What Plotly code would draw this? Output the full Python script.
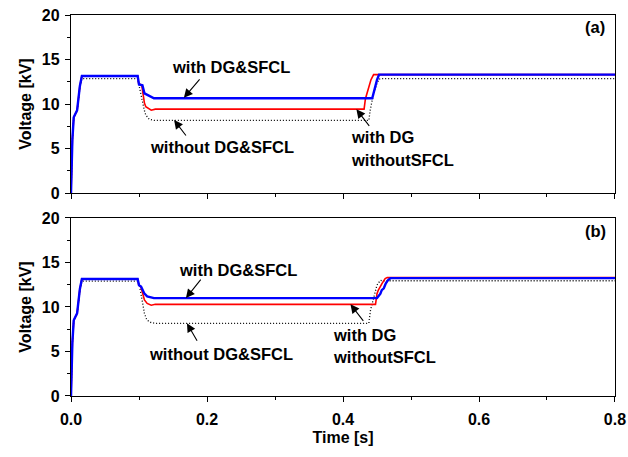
import plotly.graph_objects as go

# ---- panel (a) ----
t_a_blue = [0, 0.002, 0.004, 0.007, 0.009, 0.013, 0.016, 0.098, 0.100, 0.105, 0.108, 0.113, 0.122,
            0.443, 0.446, 0.448, 0.450, 0.453, 0.8]
v_a_blue = [0, 6.0, 8.5, 9.1, 9.3, 12.0, 13.15, 13.15, 12.2, 12.1, 11.2, 11.0, 10.65,
            10.65, 11.6, 12.1, 12.7, 13.3, 13.3]

t_a_red = [0, 0.002, 0.004, 0.007, 0.009, 0.013, 0.016, 0.098, 0.0995, 0.104, 0.108, 0.110, 0.118, 0.124,
           0.431, 0.433, 0.438, 0.441, 0.445, 0.8]
v_a_red = [0, 6.0, 8.5, 9.1, 9.3, 12.0, 13.15, 13.15, 12.3, 12.1, 10.1, 9.7, 9.3, 9.42,
           9.42, 10.6, 12.1, 12.7, 13.3, 13.3]

t_a_blk = [0, 0.002, 0.004, 0.007, 0.009, 0.013, 0.016, 0.098, 0.1005, 0.102, 0.1054, 0.1078, 0.110, 0.115, 0.122,
           0.438, 0.440, 0.443, 0.445, 0.450, 0.453, 0.456, 0.8]
v_a_blk = [0, 6.0, 8.5, 9.0, 9.2, 11.8, 12.85, 12.85, 11.9, 11.2, 10.1, 9.3, 8.76, 8.28, 8.15,
           8.15, 9.3, 10.45, 11.2, 12.3, 12.8, 12.85, 12.85]

# ---- panel (b) ----
t_b_blue = [0, 0.002, 0.004, 0.007, 0.009, 0.013, 0.016, 0.098, 0.100, 0.103, 0.108, 0.112, 0.122,
            0.450, 0.455, 0.457, 0.460, 0.463, 0.466, 0.470, 0.8]
v_b_blue = [0, 6.0, 8.5, 9.1, 9.3, 12.0, 13.15, 13.15, 12.45, 12.3, 11.5, 11.2, 11.0,
            11.0, 11.5, 11.9, 12.1, 12.66, 13.0, 13.25, 13.25]

t_b_red = [0, 0.002, 0.004, 0.007, 0.009, 0.013, 0.016, 0.098, 0.0995, 0.103, 0.108, 0.112, 0.118, 0.124,
           0.4478, 0.450, 0.452, 0.4575, 0.462, 0.465, 0.8]
v_b_red = [0, 6.0, 8.5, 9.1, 9.3, 12.0, 13.15, 13.15, 12.5, 12.2, 10.8, 10.4, 10.2, 10.3,
           10.3, 11.5, 11.9, 12.66, 13.2, 13.3, 13.3]

t_b_blk = [0, 0.002, 0.004, 0.007, 0.009, 0.013, 0.016, 0.098, 0.1005, 0.1054, 0.108, 0.1115, 0.118, 0.125,
           0.438, 0.4405, 0.4455, 0.450, 0.455, 0.458, 0.8]
v_b_blk = [0, 6.0, 8.5, 9.0, 9.2, 11.8, 12.9, 12.9, 12.5, 10.4, 9.3, 8.54, 8.24, 8.17,
           8.17, 9.66, 11.15, 12.47, 13.0, 12.95, 12.95]

x_ticks = [0.0, 0.2, 0.4, 0.6, 0.8]
x_tick_text = ["0.0", "0.2", "0.4", "0.6", "0.8"]
y_ticks = [0, 5, 10, 15, 20]

FONT = "Liberation Sans"

fig = go.Figure()

def add_panel(xa, ya, t_blk, v_blk, t_red, v_red, t_blue, v_blue):
    fig.add_trace(go.Scatter(x=t_blk, y=v_blk, mode="lines", xaxis=xa, yaxis=ya,
                             line=dict(color="black", width=1.3, dash="1px,2px"), showlegend=False))
    fig.add_trace(go.Scatter(x=t_red, y=v_red, mode="lines", xaxis=xa, yaxis=ya,
                             line=dict(color="#ff0000", width=1.6), showlegend=False))
    fig.add_trace(go.Scatter(x=t_blue, y=v_blue, mode="lines", xaxis=xa, yaxis=ya,
                             line=dict(color="#0000ff", width=2.4), showlegend=False))

add_panel("x", "y", t_a_blk, v_a_blk, t_a_red, v_a_red, t_a_blue, v_a_blue)
add_panel("x2", "y2", t_b_blk, v_b_blk, t_b_red, v_b_red, t_b_blue, v_b_blue)

axis_common = dict(showline=True, linecolor="black", linewidth=1.3, mirror=True,
                   ticks="outside", ticklen=5, tickwidth=1.3, tickcolor="black",
                   showgrid=False, zeroline=False, ticklabeloverflow="allow", automargin=False,
                   tickfont=dict(family=FONT, size=16, color="black", weight="bold"))

xaxis_common = dict(axis_common, range=[-0.00001, 0.80001], tickvals=x_ticks, ticktext=x_tick_text,
                    ticklabelstandoff=4,
                    minor=dict(dtick=0.1, tick0=0, ticks="outside", ticklen=3, tickwidth=1.3,
                               tickcolor="black", showgrid=False))
yaxis_common = dict(axis_common, range=[0, 20], tickvals=y_ticks, ticklabelstandoff=2,
                    minor=dict(dtick=2.5, tick0=0, ticks="outside", ticklen=3, tickwidth=1.3,
                               tickcolor="black", showgrid=False),
                    title=dict(text="Voltage [kV]", standoff=6,
                               font=dict(family=FONT, size=16, color="black", weight="bold")))

fig.update_layout(
    width=628, height=457,
    margin=dict(l=71, r=13, t=15, b=61),
    paper_bgcolor="white", plot_bgcolor="white",
    font=dict(family=FONT, size=16, color="black", weight="bold"),
    xaxis=dict(xaxis_common, domain=[0, 1], anchor="y", showticklabels=False),
    yaxis=dict(yaxis_common, domain=[0.5328, 1], anchor="x"),
    xaxis2=dict(xaxis_common, domain=[0, 1], anchor="y2",
                title=dict(text="Time [s]", standoff=4,
                           font=dict(family=FONT, size=16, color="black", weight="bold"))),
    yaxis2=dict(yaxis_common, domain=[0, 0.4672], anchor="x2"),
)

TXT = dict(family=FONT, size=16.5, color="black", weight="bold")

def label(xr, yr, x, y, text, xanchor="center"):
    fig.add_annotation(xref=xr, yref=yr, x=x, y=y, text=text, showarrow=False,
                       xanchor=xanchor, yanchor="middle", font=TXT)

def arrow(xr, yr, x, y, ax, ay):
    fig.add_annotation(xref=xr, yref=yr, x=x, y=y, text="", showarrow=True,
                       ax=ax, ay=ay, arrowhead=2, arrowsize=1.6, arrowwidth=1.1,
                       arrowcolor="black")

# panel (a) labels
label("x", "y", 0.236, 14.16, "with DG&SFCL")
arrow("x", "y", 0.166, 10.7, 17, -20)
label("x", "y", 0.2215, 5.17, "without DG&SFCL")
arrow("x", "y", 0.1516, 8.2, 13, 17)
label("x", "y", 0.4095, 6.29, "with DG", xanchor="left")
label("x", "y", 0.4095, 3.71, "withoutSFCL", xanchor="left")
arrow("x", "y", 0.4197, 9.4, 14, 18)
label("x", "y", 0.771, 18.65, "(a)")

# panel (b) labels
label("x2", "y2", 0.2463, 14.16, "with DG&SFCL")
arrow("x2", "y2", 0.169, 11.0, 16, -20)
label("x2", "y2", 0.220, 4.72, "without DG&SFCL")
arrow("x2", "y2", 0.1705, 8.17, 11, 19)
label("x2", "y2", 0.3818, 6.85, "with DG", xanchor="left")
label("x2", "y2", 0.3818, 4.38, "withoutSFCL", xanchor="left")
arrow("x2", "y2", 0.411, 10.3, 14, 18)
label("x2", "y2", 0.771, 18.54, "(b)")

fig.write_html("out.html")
